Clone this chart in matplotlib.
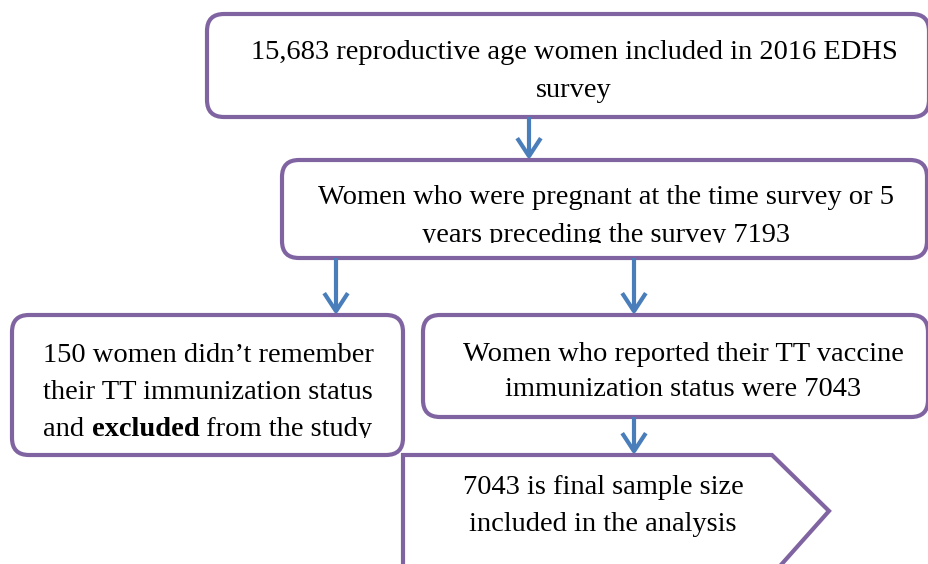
import matplotlib.pyplot as plt
from matplotlib.patches import FancyBboxPatch, FancyArrowPatch, Polygon
from matplotlib.transforms import Bbox, TransformedBbox

# Flow chart text, top to bottom
top_lines = ["15,683 reproductive age women included in 2016 EDHS", "survey"]
preg_lines = ["Women who were pregnant at the time survey or 5",
              "years preceding the survey 7193"]
excl_lines = ["150 women didn\u2019t remember", "their TT immunization status"]
excl_last = ["and ", "excluded", " from the study"]
excl_weights = ["normal", "bold", "normal"]
rep_lines = ["Women who reported their TT vaccine", "immunization status were 7043"]
final_lines = ["7043 is final sample size", "included in the analysis"]

purple = "#8064A2"
blue = "#4A7EBB"
font = "Liberation Serif"
fs = 20.5

W, H = 929, 564
fig = plt.figure(figsize=(W / 100, H / 100), dpi=100)
ax = fig.add_axes([0, 0, 1, 1])
ax.set_xlim(0, W)
ax.set_ylim(H, 0)
ax.axis("off")


def rbox(x0, y0, x1, y1, r=17):
    p = FancyBboxPatch((x0, y0), x1 - x0, y1 - y0,
                       boxstyle=f"round,pad=0,rounding_size={r}",
                       fc="white", ec=purple, lw=3.0, zorder=2)
    ax.add_patch(p)


def clipper(ybottom):
    return TransformedBbox(Bbox([[0, 0], [W, ybottom]]), ax.transData)


def lines(xc, ys, texts, clip=None):
    for y, t in zip(ys, texts):
        txt = ax.text(xc, y, t, ha="center", va="baseline", fontsize=fs,
                      family=font, color="black", zorder=3)
        if clip is not None:
            txt.set_clip_box(clip)
            txt.set_clip_on(True)


def arrow(x, y0, y1):
    a = FancyArrowPatch((x, y0), (x, y1), arrowstyle="->,head_length=1.3,head_width=0.85",
                        mutation_scale=10, color=blue, lw=3.0,
                        shrinkA=0, shrinkB=0, zorder=4, capstyle="butt")
    ax.add_patch(a)


# boxes
rbox(207, 14, 929, 117)
lines(574, [59, 97], top_lines)

rbox(282, 160, 927, 258)
lines(606, [204, 242], preg_lines, clip=clipper(243))

rbox(12, 315, 403, 455)
lines(208, [362, 399], excl_lines)

rbox(423, 315, 928, 417)
lines(683, [361, 396], rep_lines)

pent = Polygon([(403, 575), (403, 455), (772, 455), (829, 511), (772, 575)],
               closed=True, fc="white", ec=purple, lw=3.0, joinstyle="miter", zorder=2)
ax.add_patch(pent)
lines(603, [494, 531], final_lines)

# mixed-weight last line of the exclusion box
fig.canvas.draw()
r = fig.canvas.get_renderer()
clip3 = clipper(438)
pieces = []
for t, w in zip(excl_last, excl_weights):
    tx = ax.text(0, 436, t, ha="left", va="baseline", fontsize=fs, family=font,
                 weight=w, color="black", zorder=3)
    tx.set_clip_box(clip3)
    tx.set_clip_on(True)
    pieces.append(tx)
widths = [p.get_window_extent(r).width for p in pieces]
x = 208 - sum(widths) / 2
for p, w in zip(pieces, widths):
    p.set_x(x)
    x += w

# arrows
arrow(529, 117, 160)
arrow(336, 258, 315)
arrow(634, 258, 315)
arrow(634, 417, 455)

fig.savefig("out.png", dpi=100, facecolor="white")
